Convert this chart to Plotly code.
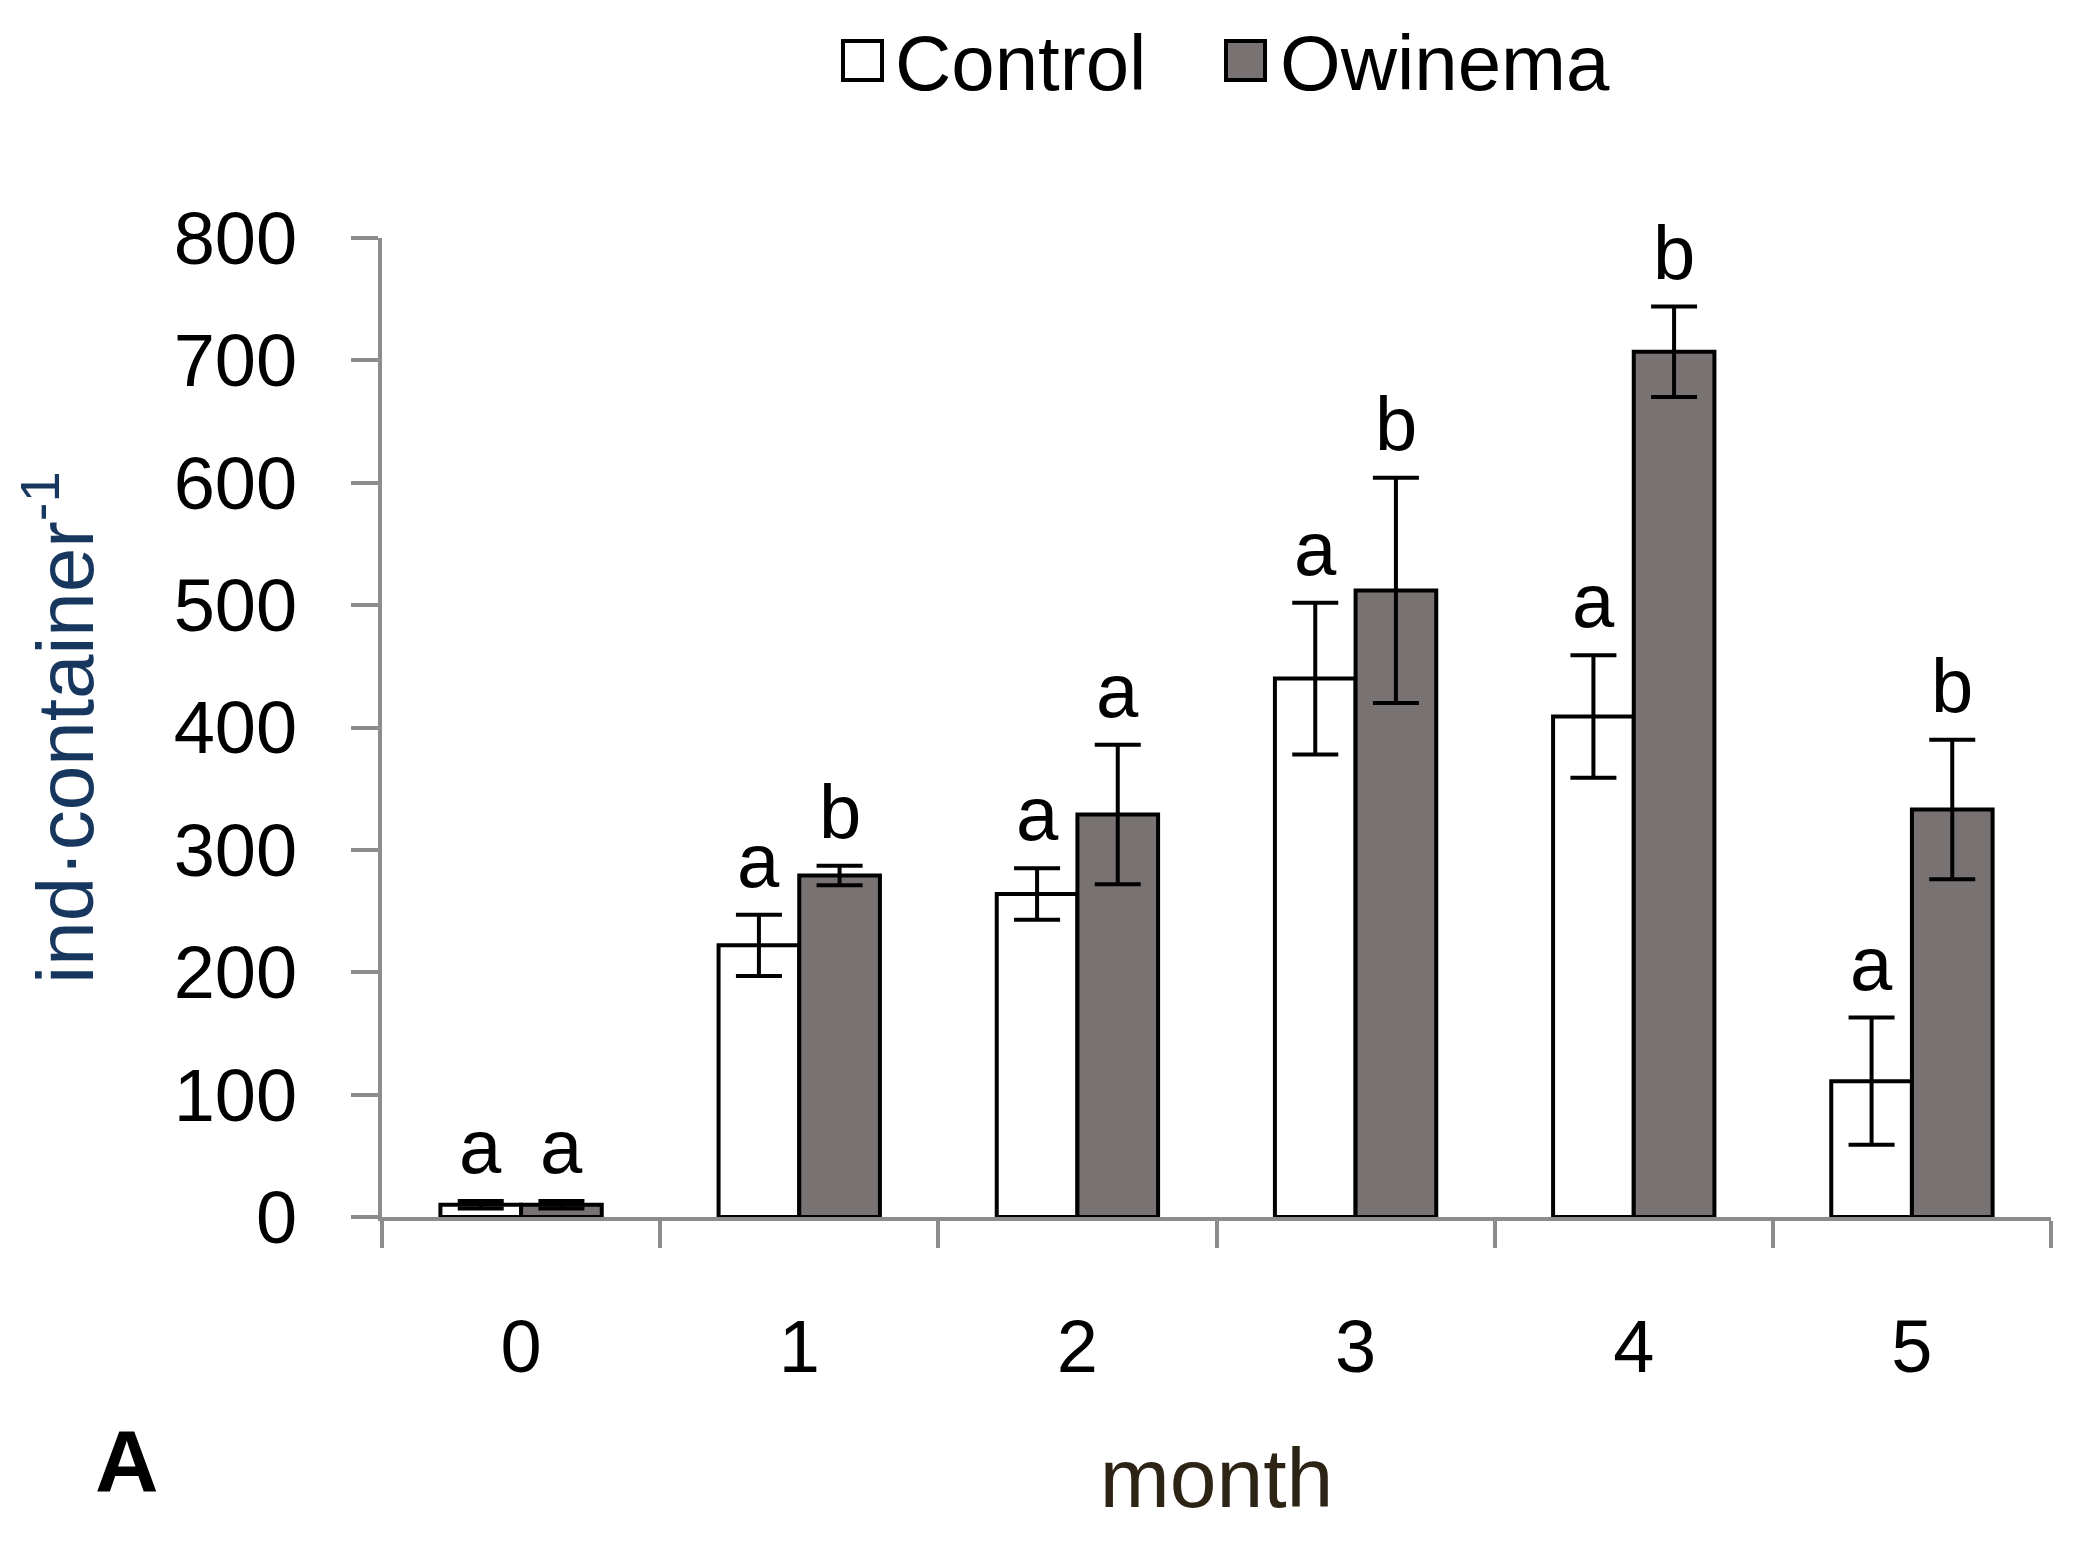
import plotly.graph_objects as go

months = ["0", "1", "2", "3", "4", "5"]
control = [10, 222, 264, 440, 409, 111]
control_err = [3, 25, 21, 62, 50, 52]
owinema = [10, 279, 329, 512, 707, 333]
owinema_err = [3, 8, 57, 92, 37, 57]
control_letters = ["a", "a", "a", "a", "a", "a"]
owinema_letters = ["a", "b", "a", "b", "b", "b"]
y_ticks = [0, 100, 200, 300, 400, 500, 600, 700, 800]

PAGE_OFF = 8  # default body margin of the html page
W, H = 2072, 1530
ML, MR, MT, MB = 374, 29, 230, 321
BARGAP = 0.42
FONT = "Liberation Sans, Arial, sans-serif"
GRAY_FILL = "#787372"
AXIS_GRAY = "#8c8c8c"

fig = go.Figure()
fig.add_trace(go.Bar(
    name="Control", x=months, y=control,
    marker=dict(color="white", line=dict(color="black", width=4)),
    error_y=dict(type="data", array=control_err, color="black", thickness=4, width=23),
    showlegend=False,
))
fig.add_trace(go.Bar(
    name="Owinema", x=months, y=owinema,
    marker=dict(color=GRAY_FILL, line=dict(color="black", width=4)),
    error_y=dict(type="data", array=owinema_err, color="black", thickness=4, width=23),
    showlegend=False,
))

plot_w = W - ML - MR
plot_h = H - MT - MB
cat_w = plot_w / len(months)
bar_w = cat_w * (1 - BARGAP) / 2

# significance letters above error bars
for vals, errs, letters, sign in [(control, control_err, control_letters, -1),
                                  (owinema, owinema_err, owinema_letters, 1)]:
    for m, v, e, t in zip(months, vals, errs, letters):
        fig.add_annotation(x=m, y=v + e, text=t, showarrow=False,
                           xref="x", yref="y", xanchor="center", yanchor="bottom",
                           xshift=sign * bar_w / 2, yshift=10,
                           font=dict(family=FONT, size=76, color="black"))

# pixel (page) -> paper helpers
def px_to_paper_x(px):
    return (px - PAGE_OFF - ML) / plot_w

def py_to_paper_y(py):
    return (PAGE_OFF + H - MB - py) / plot_h

# legend drawn manually (large boxes as in the reference)
legend_items = [("Control", "white", 843, 893), ("Owinema", GRAY_FILL, 1226, 1278)]
for label, fill, bx, tx in legend_items:
    fig.add_shape(type="rect", xref="paper", yref="paper",
                  x0=px_to_paper_x(bx), x1=px_to_paper_x(bx + 39),
                  y0=py_to_paper_y(80), y1=py_to_paper_y(41),
                  fillcolor=fill, line=dict(color="black", width=4))
    fig.add_annotation(x=px_to_paper_x(tx), y=py_to_paper_y(63), xref="paper", yref="paper",
                       text=label, showarrow=False, xanchor="left", yanchor="middle",
                       font=dict(family=FONT, size=78, color="black"))

# panel letter
fig.add_annotation(x=px_to_paper_x(127), y=py_to_paper_y(1460), xref="paper", yref="paper",
                   text="<b>A</b>", showarrow=False, xanchor="center", yanchor="middle",
                   font=dict(family=FONT, size=88, color="black"))

fig.update_layout(
    width=W, height=H,
    margin=dict(l=ML, r=MR, t=MT, b=MB, autoexpand=False),
    paper_bgcolor="white", plot_bgcolor="white",
    barmode="group", bargap=BARGAP, bargroupgap=0,
    font=dict(family=FONT, size=74, color="black"),
    showlegend=False,
)
fig.update_xaxes(
    type="category", range=[-0.5, 5.5],
    showline=True, linecolor=AXIS_GRAY, linewidth=4,
    ticks="outside", tickson="boundaries", ticklen=27, tickwidth=4, tickcolor=AXIS_GRAY,
    tickfont=dict(family=FONT, size=74, color="black"),
    ticklabelstandoff=62,
    showgrid=False, zeroline=False,
    title=dict(text="month", font=dict(family=FONT, size=84, color="#2e2416"), standoff=62),
)
fig.update_yaxes(
    range=[0, 800], tickvals=y_ticks,
    showline=True, linecolor=AXIS_GRAY, linewidth=4,
    ticks="outside", ticklen=27, tickwidth=4, tickcolor=AXIS_GRAY,
    tickfont=dict(family=FONT, size=74, color="black"),
    ticklabelstandoff=39,
    showgrid=False, zeroline=False,
    title=dict(text="ind·container<sup>-1</sup>", font=dict(family=FONT, size=80, color="#17375e"), standoff=58),
)

fig.write_html("out.html")
